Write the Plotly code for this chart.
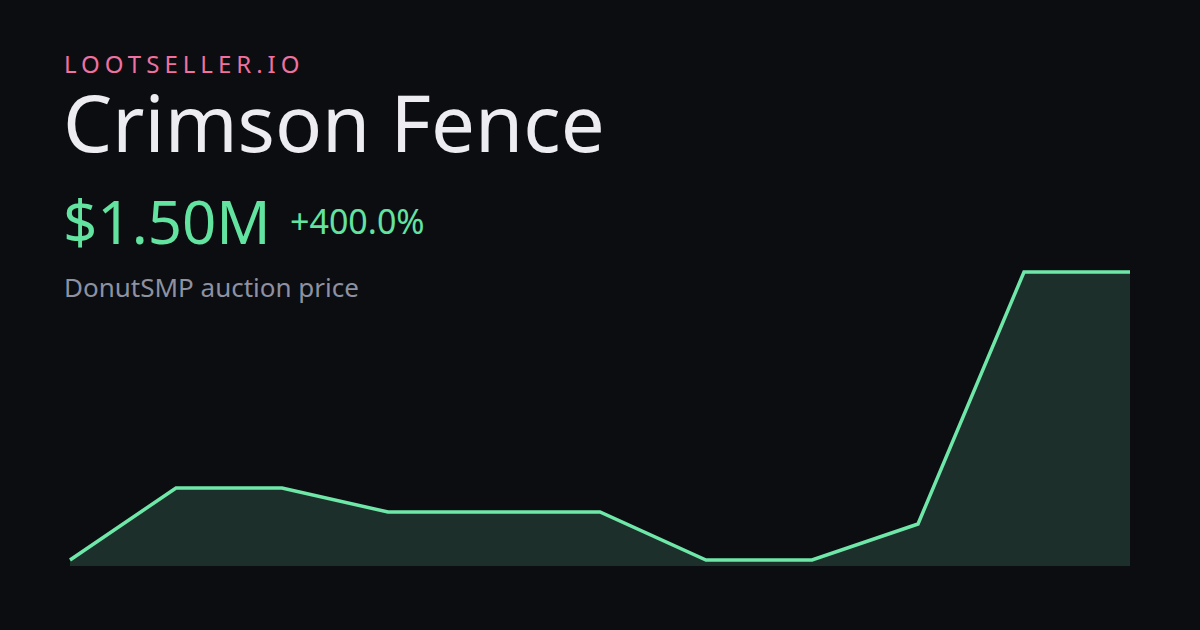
import plotly.graph_objects as go

# Data
periods = list(range(11))
prices_m = [0.30, 0.60, 0.60, 0.50, 0.50, 0.50, 0.30, 0.30, 0.45, 1.50, 1.50]
brand = "LOOTSELLER.IO"
item_name = "Crimson Fence"
price_label = "$1.50M"
change_label = "+400.0%"
subtitle = "DonutSMP auction price"

W, H = 1200, 630
L, R, T, B = 60, 60, 250, 64
plot_w = W - L - R
plot_h = H - T - B

BG = "#0b0d11"
LINE = "#6ee7a8"
FILL = "#1d2f2a"

fig = go.Figure()
fig.add_trace(go.Scatter(
    x=periods, y=prices_m, mode="lines",
    line=dict(color=LINE, width=3.5),
    fill="tozeroy", fillcolor=FILL,
    hoverinfo="skip",
))

def px_x(px):
    return (px - L) / plot_w

def px_y(py):
    return (H - B - py) / plot_h

def ann(text, px, baseline, size, color):
    fig.add_annotation(
        text=text, xref="paper", yref="paper",
        x=px_x(px), y=px_y(baseline - 0.388 * size), xanchor="left", yanchor="middle",
        align="left",
        showarrow=False, font=dict(family="Noto Sans", size=size, color=color),
    )

ann(brand, 62, 73, 24, "#f0719f")
ann(item_name, 61, 152, 78, "#ececf1")
ann(price_label, 61, 244, 60, "#63e3a0")
ann(change_label, 288, 234, 34, "#63e3a0")
ann(subtitle, 62, 297, 26, "#8d91a1")

fig.update_layout(
    width=W, height=H,
    margin=dict(l=L, r=R, t=T, b=B),
    paper_bgcolor=BG, plot_bgcolor=BG,
    showlegend=False,
    xaxis=dict(range=[-10 / 106, 10 + 10 / 106], visible=False, fixedrange=True),
    yaxis=dict(range=[0.275, 1.5 + 22 / 240], visible=False, fixedrange=True),
)

post = """
document.body.style.margin='0';
document.body.style.background='%s';
document.querySelectorAll('.annotation-text').forEach(function(t){
  if (t.textContent === '%s') { t.style.letterSpacing = '5px'; }
});
""" % (BG, brand)

fig.write_html("out.html", config={"displayModeBar": False}, post_script=post)
